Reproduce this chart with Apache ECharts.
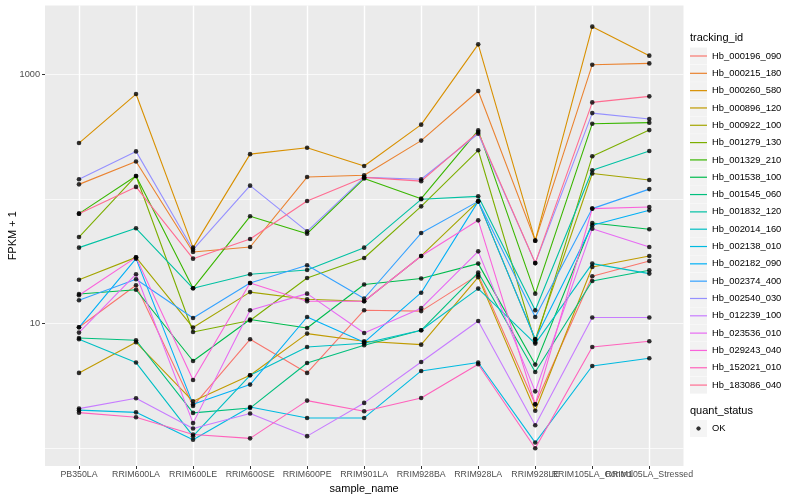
<!DOCTYPE html>
<html><head><meta charset="utf-8">
<script src="https://cdn.jsdelivr.net/npm/echarts@6/dist/echarts.min.js"></script>
<style>html,body{margin:0;padding:0;background:#fff}#c{width:800px;height:500px}</style>
</head><body><div id="c"></div>
<script>
const categories = ['PB350LA','RRIM600LA','RRIM600LE','RRIM600SE','RRIM600PE','RRIM901LA','RRIM928BA','RRIM928LA','RRIM928LE','RRIM105LA_Control','RRIM105LA_Stressed'];
const trackingIds = ['Hb_000196_090','Hb_000215_180','Hb_000260_580','Hb_000896_120','Hb_000922_100','Hb_001279_130','Hb_001329_210','Hb_001538_100','Hb_001545_060','Hb_001832_120','Hb_002014_160','Hb_002138_010','Hb_002182_090','Hb_002374_400','Hb_002540_030','Hb_012239_100','Hb_023536_010','Hb_029243_040','Hb_152021_010','Hb_183086_040'];
const colors = ['#F8766D','#EA8331','#D89000','#C09B00','#A3A500','#7CAE00','#39B600','#00BB4E','#00BF7D','#00C1A3','#00BFC4','#00BAE0','#00B0F6','#35A2FF','#9590FF','#C77CFF','#E76BF3','#FA62DB','#FF62BC','#FF6C91'];
const yTickLabels = [10, 1000];

const Hb_000196_090 = [9.34, 20.3, 2.18, 7.48, 4.02, 12.8, 12.6, 24.6, 2.25, 24.0, 31.8];
const Hb_000215_180 = [131, 200, 37.5, 41.2, 150, 155, 294, 735, 46.3, 1196, 1225];
const Hb_000260_580 = [281, 695, 40.7, 229, 258, 184, 395, 1741, 46.3, 2415, 1413];
const Hb_000896_120 = [4.02, 7.08, 2.38, 3.85, 8.31, 7.21, 6.78, 23.6, 2.00, 28.5, 34.9];
const Hb_000922_100 = [22.5, 34.0, 9.29, 17.9, 15.7, 15.1, 34.9, 95.7, 7.48, 160, 142];
const Hb_001279_130 = [49.5, 153, 8.56, 10.6, 23.2, 33.6, 87.3, 246, 7.08, 220, 357];
const Hb_001329_210 = [76.3, 153, 19.2, 72.6, 52.7, 146, 100.6, 355, 17.4, 402, 410];
const Hb_001538_100 = [17.3, 18.7, 5.01, 10.8, 9.22, 20.6, 23.0, 30.3, 4.69, 64.1, 57.1];
const Hb_001545_060 = [7.66, 7.35, 1.92, 2.10, 4.83, 6.70, 8.84, 25.7, 4.09, 22.0, 26.8];
const Hb_001832_120 = [40.7, 58.2, 19.2, 24.9, 26.9, 40.7, 99.4, 105, 12.8, 170, 243];
const Hb_002014_160 = [7.48, 4.87, 1.25, 3.85, 6.49, 6.95, 8.84, 19.1, 6.91, 30.3, 25.2];
const Hb_002138_010 = [2.02, 1.94, 1.17, 2.14, 1.75, 1.75, 4.17, 4.87, 1.11, 4.57, 5.27];
const Hb_002182_090 = [9.34, 33.2, 2.25, 3.24, 11.3, 7.08, 17.7, 95.7, 7.48, 61.5, 81.1];
const Hb_002374_400 = [15.4, 22.7, 11.1, 21.2, 29.4, 15.9, 53.3, 95.7, 11.3, 83.7, 120];
const Hb_002540_030 = [144, 241, 39.2, 128, 55.0, 149, 144, 334, 30.6, 489, 438];
const Hb_012239_100 = [2.08, 2.52, 1.44, 1.90, 1.25, 2.31, 4.92, 10.5, 1.53, 11.2, 11.2];
const Hb_023536_010 = [8.47, 24.9, 1.59, 12.8, 17.4, 8.41, 13.3, 38.0, 2.86, 57.8, 41.2];
const Hb_029243_040 = [16.9, 34.0, 3.53, 21.2, 15.1, 15.1, 34.9, 67.4, 2.25, 83.7, 86.2];
const Hb_152021_010 = [1.93, 1.77, 1.29, 1.20, 2.41, 1.98, 2.53, 4.72, 1.00, 6.49, 7.21];
const Hb_183086_040 = [76.3, 125, 33.2, 47.7, 96.3, 149, 139, 344, 30.6, 596, 666];

const seriesValues = [Hb_000196_090, Hb_000215_180, Hb_000260_580, Hb_000896_120, Hb_000922_100, Hb_001279_130, Hb_001329_210, Hb_001538_100, Hb_001545_060, Hb_001832_120, Hb_002014_160, Hb_002138_010, Hb_002182_090, Hb_002374_400, Hb_002540_030, Hb_012239_100, Hb_023536_010, Hb_029243_040, Hb_152021_010, Hb_183086_040];

const FONT = 'Liberation Sans, Arial, Helvetica, sans-serif';
const Y_MIN = 0.72, Y_MAX = 3570;
const PANEL = {left: 45, right: 116.5, top: 5.5, bottom: 34};
const DATA = {left: 79, right: 150.7, top: 5.5, bottom: 34};

const lineIcon = 'path://M0,0M17,17M0,7.9L17,7.9L17,9.1L0,9.1Z';
const dotIcon = 'path://M0,0M17,17M8.5,6.3L10.06,6.94L10.7,8.5L10.06,10.06L8.5,10.7L6.94,10.06L6.3,8.5L6.94,6.94Z';

const series = trackingIds.map((id, i) => ({
  name: id, type: 'line', xAxisIndex: 1, yAxisIndex: 2,
  data: seriesValues[i], symbol: 'none', color: colors[i],
  lineStyle: {color: colors[i], width: 1.1}, silent: true, z: 2
}));
const pts = [];
seriesValues.forEach(arr => arr.forEach((v, j) => pts.push([categories[j], v])));
series.push({name: 'OK', type: 'scatter', xAxisIndex: 1, yAxisIndex: 2, data: pts,
  symbol: 'circle', symbolSize: 4.6, itemStyle: {color: '#000'}, color: '#000', silent: true, z: 3});

const legendBase = {orient: 'vertical', left: 690, padding: 0, itemWidth: 17, itemHeight: 17, itemGap: 0.32, selectedMode: false,
  textStyle: {fontSize: 9.4, fontFamily: FONT, color: '#000'}};

const option = {
  animation: false,
  backgroundColor: '#fff',
  title: [
    {text: 'tracking_id', left: 690, top: 32, padding: 0, textStyle: {fontSize: 11, fontWeight: 'normal', color: '#000', fontFamily: FONT}},
    {text: 'quant_status', left: 690, top: 405, padding: 0, textStyle: {fontSize: 11, fontWeight: 'normal', color: '#000', fontFamily: FONT}}
  ],
  legend: [
    Object.assign({}, legendBase, {top: 47.5, data: trackingIds, icon: 'rect', itemStyle: {color: '#F2F2F2'}, textStyle: {fontSize: 9.4, fontFamily: FONT, color: 'rgba(0,0,0,0)'}}),
    Object.assign({}, legendBase, {top: 47.5, data: trackingIds, icon: lineIcon}),
    Object.assign({}, legendBase, {top: 420, data: ['OK'], icon: 'rect', itemStyle: {color: '#F2F2F2'}, textStyle: {fontSize: 9.4, fontFamily: FONT, color: 'rgba(0,0,0,0)'}}),
    Object.assign({}, legendBase, {top: 420, data: ['OK'], icon: dotIcon})
  ],
  grid: [
    Object.assign({show: true, backgroundColor: '#EBEBEB', borderWidth: 0, containLabel: false, outerBoundsMode: 'none'}, PANEL),
    Object.assign({show: false, containLabel: false, outerBoundsMode: 'none'}, DATA)
  ],
  xAxis: [
    {type: 'value', gridIndex: 0, show: false, min: 0, max: 1},
    {type: 'category', gridIndex: 1, data: categories, boundaryGap: false,
     axisLine: {show: false},
     axisTick: {show: true, length: 3, lineStyle: {color: '#333', width: 1}},
     axisLabel: {interval: 0, hideOverlap: false, margin: 4, fontSize: 8.8, color: '#4D4D4D', fontFamily: FONT},
     splitLine: {show: true, lineStyle: {color: '#fff', width: 1.4}},
     name: 'sample_name', nameLocation: 'middle', nameGap: 15,
     nameTextStyle: {fontSize: 11, color: '#000', fontFamily: FONT}}
  ],
  yAxis: [
    {type: 'log', logBase: 10, gridIndex: 0, min: Y_MIN, max: Y_MAX, position: 'left',
     axisLine: {show: false}, axisTick: {show: false},
     axisLabel: {margin: 5, fontSize: 9.2, color: '#4D4D4D', fontFamily: FONT, showMinLabel: false, showMaxLabel: false,
       formatter: v => { const hit = yTickLabels.find(t => Math.abs(v - t) / t < 1e-6); return hit ? String(hit) : ''; }},
     splitLine: {show: true, showMinLine: false, showMaxLine: false, lineStyle: {color: '#fff', width: 0.7}},
     name: 'FPKM + 1', nameLocation: 'middle', nameGap: 27, nameRotate: 90, nameMoveOverlap: false,
     nameTextStyle: {fontSize: 11, color: '#000', fontFamily: FONT}},
    {type: 'log', logBase: 10, gridIndex: 0, min: Y_MIN, max: Y_MAX, position: 'left', offset: 0,
     axisLine: {show: false},
     axisTick: {show: true, customValues: yTickLabels, length: 3, lineStyle: {color: '#333', width: 1}},
     axisLabel: {show: false},
     splitLine: {show: true, showMinLine: false, showMaxLine: false, lineStyle: {color: ['rgba(255,255,255,0)', '#fff'], width: 1.4}}},
    {type: 'log', logBase: 10, gridIndex: 1, min: Y_MIN, max: Y_MAX, show: false, splitLine: {show: false}}
  ],
  series: series
};
const chart = echarts.init(document.getElementById('c'), null, {renderer: 'canvas'});
chart.setOption(option);
</script></body></html>
